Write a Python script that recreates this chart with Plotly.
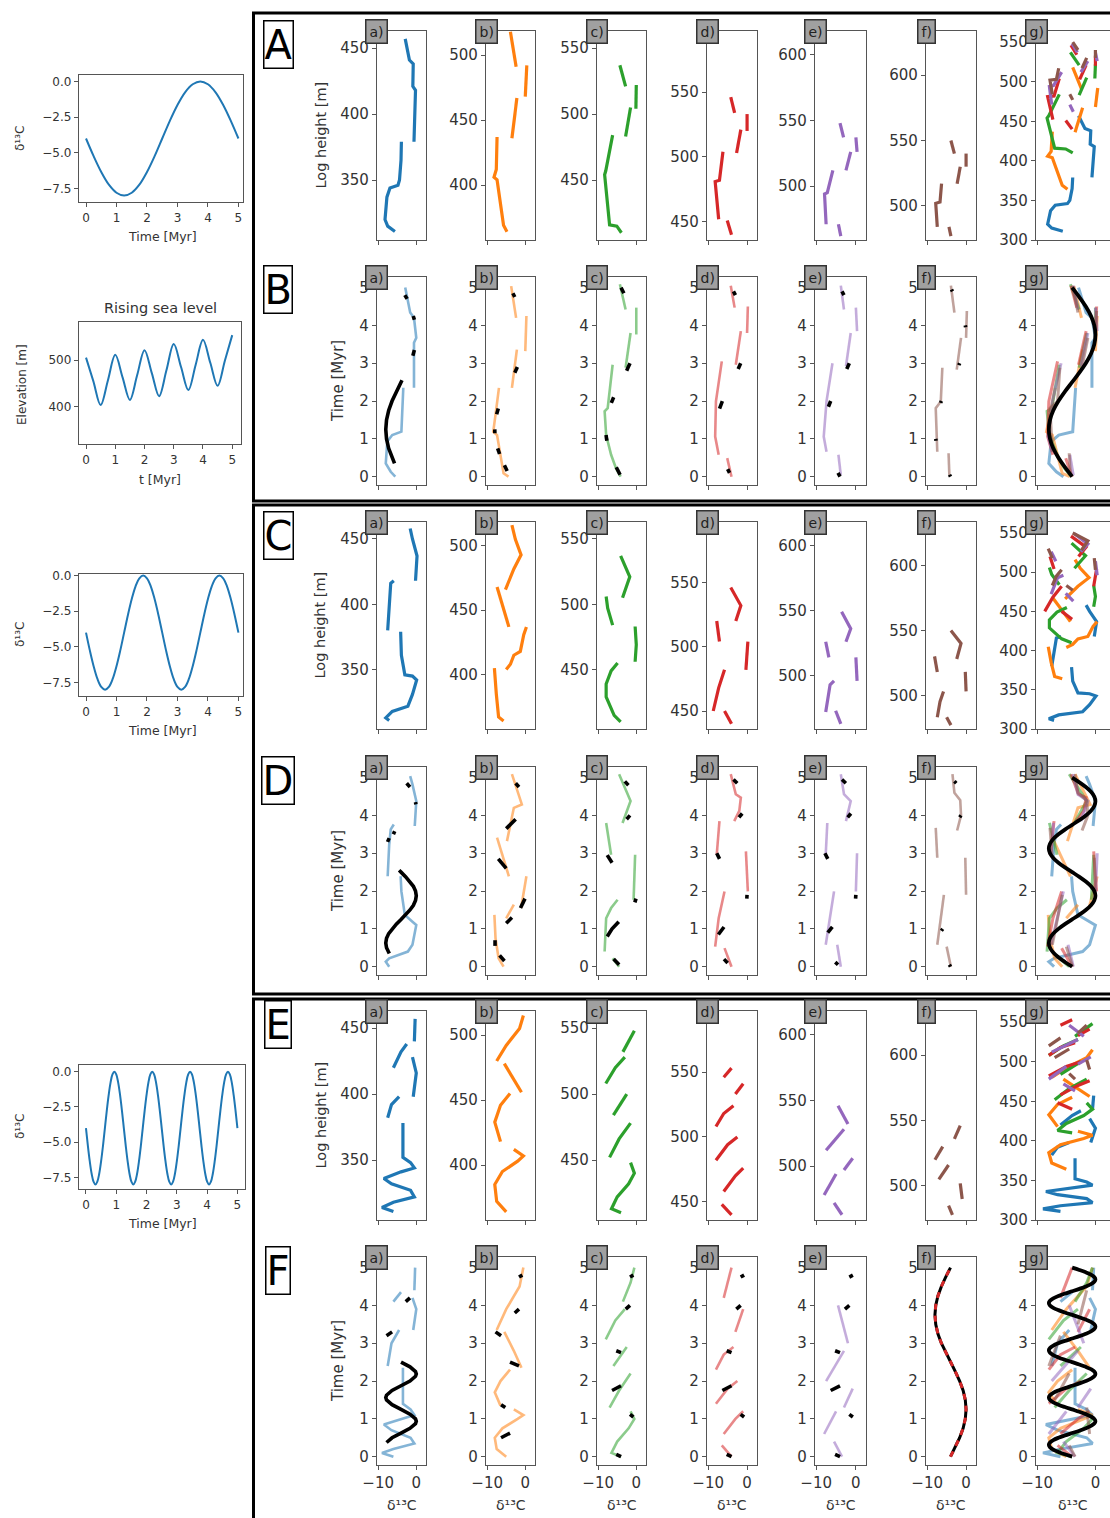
import plotly.graph_objects as go

FONT = "DejaVu Sans"
W, H = 1110, 1518

# ---------------- signals ----------------
sig1_t = [0.0, 0.25, 0.5, 0.75, 1.0, 1.25, 1.5, 1.75, 2.0, 2.25, 2.5, 2.75, 3.0, 3.25, 3.5, 3.75, 4.0, 4.25, 4.5, 4.75, 5.0]
sig1_v = [-4.0, -5.24, -6.35, -7.24, -7.80, -8.0, -7.80, -7.24, -6.35, -5.24, -4.0, -2.76, -1.65, -0.76, -0.20, 0.0, -0.20, -0.76, -1.65, -2.76, -4.0]

sig2_t = [0.0, 0.125, 0.25, 0.375, 0.5, 0.625, 0.75, 0.875, 1.0, 1.125, 1.25, 1.375, 1.5, 1.625, 1.75, 1.875, 2.0, 2.125, 2.25, 2.375,
          2.5, 2.625, 2.75, 2.875, 3.0, 3.125, 3.25, 3.375, 3.5, 3.625, 3.75, 3.875, 4.0, 4.125, 4.25, 4.375, 4.5, 4.625, 4.75, 4.875, 5.0]
sig2_v = [-4.0, -5.24, -6.35, -7.24, -7.80, -8.0, -7.80, -7.24, -6.35, -5.24, -4.0, -2.76, -1.65, -0.76, -0.20, 0.0, -0.20, -0.76, -1.65, -2.76,
          -4.0, -5.24, -6.35, -7.24, -7.80, -8.0, -7.80, -7.24, -6.35, -5.24, -4.0, -2.76, -1.65, -0.76, -0.20, 0.0, -0.20, -0.76, -1.65, -2.76, -4.0]

sig3_t = [0.0, 0.0625, 0.125, 0.1875, 0.25, 0.3125, 0.375, 0.4375, 0.5, 0.5625, 0.625, 0.6875, 0.75, 0.8125, 0.875, 0.9375, 1.0, 1.0625, 1.125, 1.1875,
          1.25, 1.3125, 1.375, 1.4375, 1.5, 1.5625, 1.625, 1.6875, 1.75, 1.8125, 1.875, 1.9375, 2.0, 2.0625, 2.125, 2.1875, 2.25, 2.3125, 2.375, 2.4375,
          2.5, 2.5625, 2.625, 2.6875, 2.75, 2.8125, 2.875, 2.9375, 3.0, 3.0625, 3.125, 3.1875, 3.25, 3.3125, 3.375, 3.4375, 3.5, 3.5625, 3.625, 3.6875,
          3.75, 3.8125, 3.875, 3.9375, 4.0, 4.0625, 4.125, 4.1875, 4.25, 4.3125, 4.375, 4.4375, 4.5, 4.5625, 4.625, 4.6875, 4.75, 4.8125, 4.875, 4.9375, 5.0]
sig3_v = [-4.0, -5.24, -6.35, -7.24, -7.80, -8.0, -7.80, -7.24, -6.35, -5.24, -4.0, -2.76, -1.65, -0.76, -0.20, 0.0, -0.20, -0.76, -1.65, -2.76,
          -4.0, -5.24, -6.35, -7.24, -7.80, -8.0, -7.80, -7.24, -6.35, -5.24, -4.0, -2.76, -1.65, -0.76, -0.20, 0.0, -0.20, -0.76, -1.65, -2.76,
          -4.0, -5.24, -6.35, -7.24, -7.80, -8.0, -7.80, -7.24, -6.35, -5.24, -4.0, -2.76, -1.65, -0.76, -0.20, 0.0, -0.20, -0.76, -1.65, -2.76,
          -4.0, -5.24, -6.35, -7.24, -7.80, -8.0, -7.80, -7.24, -6.35, -5.24, -4.0, -2.76, -1.65, -0.76, -0.20, 0.0, -0.20, -0.76, -1.65, -2.76, -4.0]

sea_t = [0.0, 0.25, 0.5, 0.75, 1.0, 1.25, 1.5, 1.75, 2.0, 2.25, 2.5, 2.75, 3.0, 3.25, 3.5, 3.75, 4.0, 4.25, 4.5, 4.75, 5.0]
sea_z = [505, 455, 404, 457, 511, 463, 415, 468, 521, 472, 423, 478, 534, 485, 436, 490, 543, 494, 445, 499, 553]

# ---------------- sections: (d13C, log height) ----------------
A_a = [[(-5.6, 311), (-7.5, 315), (-8.2, 320), (-7.7, 337), (-6.9, 344), (-4.8, 346), (-4.4, 350), (-4.0, 365), (-3.9, 379)],
       [(-0.6, 379), (-0.4, 400), (-0.2, 418), (-0.9, 421), (-0.8, 438), (-1.8, 441), (-2.4, 450), (-2.9, 457)]]
A_b = [[(-4.8, 364), (-5.7, 369), (-7.4, 404), (-8.2, 406), (-7.6, 412), (-7.4, 437)],
       [(-3.5, 436), (-2.2, 467)], [(0.0, 468), (0.4, 492)], [(-2.4, 491), (-3.9, 518)]]
A_c = [[(-3.9, 410), (-5.1, 415), (-7.0, 416), (-8.3, 454), (-8.0, 457), (-6.2, 484)],
       [(-2.8, 483), (-1.5, 505)], [(-0.1, 504), (0.0, 522)], [(-2.8, 521), (-4.3, 537)]]
A_d = [[(-4.0, 440), (-5.1, 451)], [(-7.3, 452), (-8.2, 481), (-7.1, 482), (-6.2, 504)],
       [(-2.7, 503), (-1.6, 521)], [(0.0, 520), (0.0, 533)], [(-3.2, 534), (-4.2, 546)]]
A_e = [[(-3.8, 462), (-4.4, 471)], [(-7.5, 471), (-7.9, 494), (-7.2, 495), (-5.8, 512)],
       [(-2.5, 512), (-1.3, 526)], [(0.3, 526), (0.0, 537)], [(-3.1, 537), (-4.0, 548)]]
A_f = [[(-3.9, 477), (-4.4, 484)], [(-7.4, 484), (-7.8, 502), (-6.7, 503), (-6.3, 517)],
       [(-2.3, 517), (-1.5, 530)], [(0.0, 530), (0.0, 540)], [(-3.0, 540), (-3.9, 550)]]

C_a = [[(-7.1, 311), (-8.0, 313), (-6.3, 318), (-2.2, 322), (-1.0, 331), (0.1, 342), (-1.0, 345), (-3.0, 346), (-3.9, 361), (-4.1, 379)],
       [(-7.5, 380), (-7.1, 399), (-6.7, 416), (-5.9, 418)],
       [(-0.2, 418), (0.2, 437), (-1.0, 450), (-1.6, 458)]]
C_b = [[(-5.7, 364), (-7.0, 367), (-7.6, 385), (-8.1, 405)],
       [(-5.0, 404), (-3.9, 408), (-3.0, 415), (-1.3, 418), (-0.4, 431), (0.3, 437)],
       [(-4.3, 437), (-5.7, 451), (-7.4, 468)],
       [(-5.2, 466), (-3.0, 482), (-1.1, 493), (-2.6, 505), (-3.5, 516)]]
C_c = [[(-4.1, 410), (-5.8, 415), (-7.9, 429), (-7.9, 439), (-6.6, 449), (-4.9, 455)],
       [(-0.3, 456), (0.0, 469), (-0.3, 483)], [(-6.2, 484), (-7.5, 497), (-7.9, 506)],
       [(-3.6, 505), (-1.7, 521), (-4.1, 537)]]
C_d = [[(-4.0, 440), (-5.8, 450)], [(-8.7, 450), (-7.3, 468), (-5.8, 482)], [(-0.3, 482), (0.2, 504)],
       [(-7.1, 504), (-7.8, 520)], [(-2.9, 520), (-1.6, 532), (-4.2, 546)]]
C_e = [[(-3.8, 463), (-5.1, 473)], [(-7.6, 472), (-6.5, 493), (-5.5, 496)], [(0.3, 496), (0.0, 514)],
       [(-6.8, 514), (-7.6, 526)], [(-2.5, 526), (-1.3, 536), (-3.6, 549)]]
C_f = [[(-3.9, 477), (-5.0, 483)], [(-7.4, 483), (-6.7, 495), (-5.8, 503)], [(0.0, 503), (-0.2, 518)],
       [(-7.4, 518), (-8.1, 530)], [(-2.4, 528), (-1.3, 540), (-3.9, 550)]]

E_a = [[(-6.0, 311), (-9.0, 314), (-6.0, 318), (-0.5, 322), (-1.5, 327), (-6.5, 332), (-8.5, 336), (-4.0, 341), (-0.5, 344), (-1.5, 348), (-3.5, 352), (-3.5, 378)],
       [(-7.5, 382), (-6.5, 392), (-4.5, 398)], [(-0.8, 398), (0.0, 416), (-1.0, 428)],
       [(-6.0, 420), (-4.0, 432), (-2.5, 438)], [(-0.5, 440), (-0.3, 457)]]
E_b = [[(-5.0, 364), (-7.5, 372), (-8.0, 385), (-6.0, 395), (-2.0, 403), (-0.5, 407), (-3.0, 412)],
       [(-6.5, 418), (-8.0, 433), (-6.5, 446), (-4.0, 455)], [(-1.0, 456), (-3.0, 466), (-5.5, 478)],
       [(-7.5, 480), (-5.0, 492), (-1.5, 505), (-0.5, 515)]]
E_c = [[(-4.0, 410), (-6.5, 413), (-5.0, 422), (-2.0, 432), (-0.5, 440), (-1.5, 448)],
       [(-7.0, 452), (-4.5, 466), (-1.5, 478)], [(-6.0, 484), (-2.5, 500)],
       [(-8.0, 508), (-5.5, 520), (-3.0, 528)], [(-3.5, 532), (-1.5, 542), (-0.5, 548)]]
E_d = [[(-4.0, 440), (-6.5, 448)], [(-6.0, 458), (-3.0, 470), (-1.0, 476)], [(-8.0, 482), (-5.0, 494), (-2.5, 500)],
       [(-8.0, 508), (-6.0, 518), (-3.5, 524)], [(-3.0, 533), (-1.0, 541)], [(-6.0, 546), (-4.0, 553)]]
E_e = [[(-3.5, 463), (-5.5, 472)], [(-8.0, 478), (-5.0, 494)], [(-3.0, 497), (-0.8, 506)],
       [(-7.5, 512), (-3.0, 528)], [(-2.0, 532), (-4.5, 546)]]
E_f = [[(-3.5, 478), (-4.5, 485)], [(-1.0, 490), (-1.5, 502)], [(-7.0, 505), (-4.5, 516)],
       [(-8.0, 520), (-6.0, 530)], [(-3.0, 536), (-1.5, 546)]]

# ---------------- sections on their age model: (d13C, time) ----------------
B_a = [[(-5.5, 0.0), (-6.7, 0.13), (-8.0, 0.35), (-7.6, 0.93), (-6.3, 1.1), (-3.9, 1.19), (-3.4, 2.35)],
       [(-0.6, 2.35), (-0.6, 3.54), (0.0, 3.67), (-0.6, 4.2), (-1.6, 4.34), (-2.9, 5.0)]]
B_b = [[(-4.4, 0.0), (-5.7, 0.09), (-7.4, 1.1), (-8.4, 1.19), (-7.8, 1.64), (-6.9, 2.35)],
       [(-3.5, 2.35), (-2.2, 3.36)], [(0.0, 3.32), (0.3, 4.25)], [(-2.4, 4.2), (-3.7, 5.04)]]
B_c = [[(-4.1, 0.0), (-5.3, 0.22), (-6.6, 0.58), (-7.9, 1.1), (-8.3, 1.73), (-7.5, 1.81), (-6.2, 2.96)],
       [(-2.8, 2.88), (-1.5, 3.8)], [(0.0, 3.76), (0.0, 4.47)], [(-2.8, 4.42), (-4.3, 5.09)]]
B_d = [[(-4.0, 0.0), (-5.1, 0.49)], [(-7.3, 0.58), (-8.2, 1.06), (-8.0, 1.99), (-6.5, 3.05)],
       [(-2.9, 2.96), (-1.6, 3.85)], [(0.0, 3.8), (0.2, 4.5)], [(-3.2, 4.47), (-4.2, 5.05)]]
B_e = [[(-3.8, 0.04), (-4.4, 0.58)], [(-7.4, 0.66), (-8.1, 1.06), (-7.4, 1.99), (-5.9, 3.0)],
       [(-2.5, 2.92), (-1.3, 3.8)], [(0.3, 3.85), (0.0, 4.47)], [(-3.0, 4.42), (-3.8, 5.05)]]
B_f = [[(-4.3, 0.04), (-4.5, 0.62)], [(-7.4, 0.66), (-7.8, 1.81), (-6.5, 1.99), (-6.1, 2.88)],
       [(-2.4, 2.83), (-1.3, 3.67)], [(0.0, 3.67), (0.2, 4.38)], [(-3.0, 4.34), (-3.9, 5.05)]]
B_a_k = [[(-5.70, 0.35), (-6.35, 0.5), (-7.24, 0.75), (-7.80, 1.0), (-8.0, 1.25), (-7.80, 1.5), (-7.24, 1.75), (-6.35, 2.0), (-5.24, 2.25), (-3.75, 2.55)],
         [(-0.9, 3.2), (-0.5, 3.35)], [(-0.5, 4.15), (-0.8, 4.25)], [(-2.4, 4.7), (-3.0, 4.8)]]
B_b_k = [[(-4.75, 0.15), (-5.47, 0.3)], [(-6.74, 0.6), (-7.24, 0.75)], [(-7.98, 1.15), (-8.0, 1.25)], [(-7.51, 1.65), (-7.08, 1.8)],
         [(-2.76, 2.75), (-2.07, 2.9)], [(-2.76, 4.75), (-3.25, 4.85)]]
B_c_k = [[(-4.25, 0.05), (-5.24, 0.25)], [(-7.72, 0.95), (-7.93, 1.1)], [(-6.55, 1.95), (-5.93, 2.1)], [(-2.53, 2.8), (-1.65, 3.0)],
         [(-3.25, 4.85), (-4.0, 5.0)]]
B_d_k = [[(-4.5, 0.1), (-5.0, 0.2)], [(-7.08, 1.8), (-6.35, 2.0)], [(-2.30, 2.85), (-1.65, 3.0)], [(-3.0, 4.8), (-3.5, 4.9)]]
B_e_k = [[(-4.0, 0.0), (-4.5, 0.1)], [(-6.92, 1.85), (-6.35, 2.0)], [(-2.30, 2.85), (-1.65, 3.0)], [(-3.0, 4.8), (-3.5, 4.9)]]
B_f_k = [[(-4.0, 0.0), (-4.25, 0.05)], [(-7.72, 0.95), (-7.80, 1.0)], [(-6.55, 1.95), (-6.35, 2.0)], [(-1.86, 2.95), (-1.65, 3.0)],
         [(-0.12, 3.95), (-0.20, 4.0)], [(-3.5, 4.9), (-3.75, 4.95)]]

D_a = [[(-7.1, 0.0), (-8.0, 0.13), (-7.1, 0.22), (-2.2, 0.4), (-1.0, 0.58), (0.0, 1.1), (-1.0, 1.19), (-3.0, 1.37), (-3.9, 1.99), (-4.1, 2.39)],
       [(-7.5, 2.39), (-7.1, 3.23), (-6.7, 3.63), (-5.9, 3.76)], [(-0.4, 3.72), (0.0, 4.38), (-1.0, 4.82), (-1.6, 5.04)]]
D_b = [[(-5.7, 0.0), (-7.0, 0.22), (-7.8, 0.75), (-8.1, 1.37)], [(-5.0, 1.28), (-3.0, 1.64)], [(-1.1, 1.55), (0.3, 2.39)],
       [(-4.3, 2.39), (-7.4, 3.41)], [(-4.8, 3.32), (-3.0, 4.2), (-0.9, 4.29), (-3.0, 4.91), (-3.5, 5.09)]]
D_c = [[(-4.5, 0.0), (-6.2, 0.22)], [(-8.3, 0.4), (-7.9, 1.28), (-6.6, 1.55), (-4.9, 1.77)], [(-0.7, 1.77), (-0.3, 2.96)],
       [(-6.6, 2.96), (-7.9, 3.8)], [(-3.6, 3.8), (-1.5, 4.38), (-4.5, 5.09)]]
D_d = [[(-4.0, 0.0), (-5.8, 0.49)], [(-8.2, 0.53), (-7.3, 1.28), (-5.8, 1.99)], [(0.2, 1.99), (-0.3, 3.05)],
       [(-7.8, 2.96), (-7.1, 3.85)], [(-4.2, 5.09), (-2.9, 4.56), (-1.6, 4.47), (-2.0, 4.12), (-3.3, 3.85)]]
D_e = [[(-3.8, 0.0), (-4.7, 0.58)], [(-7.6, 0.58), (-6.5, 1.28), (-5.5, 1.99)], [(0.0, 1.99), (0.3, 3.0)],
       [(-7.6, 2.96), (-7.2, 3.8)], [(-3.8, 5.09), (-3.0, 4.56), (-1.3, 4.38), (-2.0, 4.1), (-2.5, 3.85)]]
D_f = [[(-3.9, 0.0), (-5.0, 0.53)], [(-7.4, 0.58), (-6.5, 1.28), (-5.7, 1.9)], [(0.0, 1.9), (-0.2, 2.88)],
       [(-7.4, 2.88), (-7.8, 3.67)], [(-3.5, 5.09), (-3.0, 4.6), (-1.5, 4.4), (-1.3, 4.0), (-2.3, 3.6)]]
D_a_k = [[(-7.08, 0.35), (-7.80, 0.5), (-8.0, 0.625), (-7.80, 0.75), (-7.24, 0.875), (-6.35, 1.0), (-5.24, 1.125), (-4.0, 1.25),
          (-2.76, 1.375), (-1.65, 1.5), (-0.76, 1.625), (-0.20, 1.75), (0.0, 1.875), (-0.20, 2.0), (-0.76, 2.125), (-1.65, 2.25),
          (-2.76, 2.375), (-4.0, 2.5), (-4.5, 2.55)],
         [(-7.53, 3.3), (-7.1, 3.4)], [(-6.0, 3.5), (-5.66, 3.58)], [(-0.09, 4.29), (-0.2, 4.35)], [(-1.65, 4.75), (-2.53, 4.85)]]
D_b_k = [[(-5.47, 0.15), (-6.74, 0.3)], [(-7.93, 0.55), (-8.0, 0.625), (-7.93, 0.7)], [(-5.0, 1.15), (-3.5, 1.3)],
         [(-1.26, 1.55), (-0.07, 1.8)], [(-5.0, 2.6), (-7.08, 2.85)], [(-5.0, 3.65), (-2.53, 3.9)], [(-1.65, 4.75), (-2.53, 4.85)]]
D_c_k = [[(-4.5, 0.05), (-5.93, 0.2)], [(-7.62, 0.8), (-6.35, 1.0), (-4.6, 1.19)], [(-0.38, 1.7), (-0.07, 1.8)],
         [(-6.35, 2.75), (-7.62, 2.95)], [(-2.53, 3.9), (-1.65, 4.0)], [(-2.07, 4.8), (-3.0, 4.9)]]
D_d_k = [[(-5.0, 0.1), (-5.93, 0.2)], [(-7.38, 0.85), (-5.93, 1.05)], [(-0.07, 1.8), (-0.01, 1.9)], [(-7.08, 2.85), (-7.80, 3.0)],
         [(-2.07, 3.95), (-1.26, 4.05)], [(-2.53, 4.85), (-3.5, 4.95)]]
D_e_k = [[(-4.5, 0.05), (-5.19, 0.12)], [(-7.08, 0.9), (-5.93, 1.05)], [(-0.07, 1.8), (-0.01, 1.9)], [(-7.08, 2.85), (-7.80, 3.0)],
         [(-2.07, 3.95), (-1.26, 4.05)], [(-2.53, 4.85), (-3.5, 4.95)]]
D_f_k = [[(-4.0, 0.0), (-4.3, 0.05)], [(-6.35, 0.95), (-6.0, 1.0)], [(-1.65, 3.95), (-1.3, 4.0)], [(-2.53, 4.85), (-3.0, 4.9)]]

F_a = [[(-6.0, 0.0), (-9.0, 0.1), (-6.0, 0.2), (-0.5, 0.35), (-1.5, 0.5), (-6.5, 0.7), (-8.5, 0.85), (-4.0, 1.0), (-0.5, 1.1), (-1.5, 1.25), (-3.5, 1.4), (-3.5, 2.35)],
       [(-7.5, 2.4), (-6.5, 3.0), (-4.5, 3.35)], [(-0.8, 3.35), (0.0, 3.9), (-1.0, 4.2)],
       [(-6.0, 4.1), (-4.0, 4.35)], [(-0.5, 4.4), (-0.3, 5.0)]]
F_b = [[(-5.0, 0.0), (-7.5, 0.2), (-8.0, 0.5), (-6.0, 0.75), (-2.0, 1.0), (-0.5, 1.1), (-3.0, 1.25)],
       [(-6.5, 1.35), (-8.0, 1.7), (-6.5, 2.0), (-4.0, 2.3)], [(-1.0, 2.35), (-3.0, 2.8), (-5.5, 3.3)],
       [(-7.5, 3.35), (-5.0, 3.9), (-1.5, 4.5), (-0.5, 5.0)]]
F_c = [[(-4.0, 0.0), (-6.5, 0.1), (-5.0, 0.4), (-2.0, 0.75), (-0.5, 1.0), (-1.5, 1.2)],
       [(-7.0, 1.3), (-4.5, 1.75), (-1.5, 2.2)], [(-6.0, 2.4), (-2.5, 2.9)],
       [(-8.0, 3.1), (-5.5, 3.6), (-3.0, 3.9)], [(-3.5, 4.1), (-1.5, 4.6), (-0.5, 5.0)]]
F_d = [[(-4.0, 0.0), (-6.5, 0.3)], [(-6.0, 0.6), (-3.0, 1.0), (-1.0, 1.2)], [(-8.0, 1.4), (-5.0, 1.8), (-2.5, 2.0)],
       [(-8.0, 2.3), (-6.0, 2.7), (-3.5, 2.9)], [(-3.0, 3.3), (-1.0, 3.9)], [(-6.0, 4.2), (-4.0, 5.0)]]
F_e = [[(-3.5, 0.0), (-5.5, 0.4)], [(-8.0, 0.6), (-5.0, 1.2)], [(-3.0, 1.3), (-0.8, 1.8)],
       [(-7.5, 2.0), (-3.0, 2.8)], [(-2.0, 3.0), (-4.5, 4.0)]]
F_f = [[(-3.5, 0.0), (-4.5, 0.3)], [(-1.0, 0.6), (-1.5, 1.3)], [(-7.0, 1.5), (-4.5, 2.2)],
       [(-8.0, 2.4), (-6.0, 3.2)], [(-3.0, 3.5), (-1.5, 4.4)]]
# panel F f) shows one red / black dashed curve over the whole interval
F_f_curve = [(-4.0, 0.0), (-2.76, 0.25), (-1.65, 0.5), (-0.76, 0.75), (-0.2, 1.0), (0.0, 1.25), (-0.2, 1.5), (-0.76, 1.75),
             (-1.65, 2.0), (-2.76, 2.25), (-4.0, 2.5), (-5.24, 2.75), (-6.35, 3.0), (-7.24, 3.25), (-7.8, 3.5), (-8.0, 3.75),
             (-7.8, 4.0), (-7.24, 4.25), (-6.35, 4.5), (-5.24, 4.75), (-4.0, 5.0)]
F_a_k = [[(-7.80, 0.375), (-6.35, 0.5), (-4.0, 0.625), (-1.65, 0.75), (-0.20, 0.875), (0.0, 0.9375), (-0.20, 1.0), (-1.65, 1.125),
          (-4.0, 1.25), (-6.35, 1.375), (-7.80, 1.5), (-8.0, 1.5625), (-7.80, 1.625), (-6.35, 1.75), (-4.0, 1.875), (-1.65, 2.0),
          (-0.20, 2.125), (0.0, 2.1875), (-0.20, 2.25), (-1.65, 2.375), (-4.0, 2.5)],
         [(-7.8, 3.2), (-6.35, 3.3)], [(-2.76, 4.1), (-1.65, 4.2)]]
F_b_k = [[(-6.35, 0.5), (-4.0, 0.625)], [(-5.24, 1.3), (-6.35, 1.375)], [(-1.65, 2.4), (-4.0, 2.5)], [(-6.35, 3.2), (-7.8, 3.3)],
         [(-2.76, 3.8), (-1.65, 3.9)], [(-1.65, 4.75), (-0.76, 4.8)]]
F_c_k = [[(-4.0, 0.0), (-5.24, 0.06)], [(-0.76, 1.05), (-1.65, 1.12)], [(-6.35, 1.75), (-4.0, 1.875)], [(-4.0, 2.75), (-5.24, 2.8)],
         [(-2.76, 3.9), (-1.65, 4.0)], [(-1.65, 4.75), (-0.76, 4.8)]]
F_d_k = [[(-4.0, 0.0), (-5.24, 0.06)], [(-0.76, 1.05), (-1.65, 1.12)], [(-6.35, 1.75), (-4.0, 1.875)], [(-4.0, 2.75), (-5.24, 2.8)],
         [(-2.76, 3.9), (-1.65, 4.0)], [(-1.65, 4.75), (-0.76, 4.8)]]
F_e_k = [[(-4.0, 0.0), (-5.24, 0.06)], [(-0.76, 1.05), (-1.65, 1.12)], [(-6.35, 1.75), (-4.0, 1.875)], [(-4.0, 2.75), (-5.24, 2.8)],
         [(-2.76, 3.9), (-1.65, 4.0)], [(-1.65, 4.75), (-0.76, 4.8)]]
F_f_k = []

panel_tags = ["a)", "b)", "c)", "d)", "e)", "f)", "g)"]
row_letters = ["A", "B", "C", "D", "E", "F"]

# ---------------- styling / geometry ----------------
C6 = ['#1f77b4', '#ff7f0e', '#2ca02c', '#d62728', '#9467bd', '#8c564b']
L6 = ['rgba(31,119,180,0.55)', 'rgba(255,127,14,0.55)', 'rgba(44,160,44,0.55)',
      'rgba(214,39,40,0.55)', 'rgba(148,103,189,0.55)', 'rgba(140,86,75,0.55)']
col_px = [(377, 426), (486, 535), (597, 646), (707, 757), (815, 866), (926, 976), (1036, 1110)]
row_py = [(31, 240), (277, 485), (522, 729), (767, 975), (1011, 1220), (1257, 1465)]
h_ranges = [(304.5, 463), (357.7, 518.5), (404.5, 563), (436, 597), (459, 618), (474, 633.6), (300, 564)]
t_range = (-0.22, 5.28)
x_ranges = [(-10.3, 2.55)] * 6 + [(-10.2, 2.5)]

height_rows = {0: [A_a, A_b, A_c, A_d, A_e, A_f], 2: [C_a, C_b, C_c, C_d, C_e, C_f], 4: [E_a, E_b, E_c, E_d, E_e, E_f]}
time_rows = {1: ([B_a, B_b, B_c, B_d, B_e, B_f], [B_a_k, B_b_k, B_c_k, B_d_k, B_e_k, B_f_k], sig1_t, sig1_v),
             3: ([D_a, D_b, D_c, D_d, D_e, D_f], [D_a_k, D_b_k, D_c_k, D_d_k, D_e_k, D_f_k], sig2_t, sig2_v),
             5: ([F_a, F_b, F_c, F_d, F_e, F_f], [F_a_k, F_b_k, F_c_k, F_d_k, F_e_k, F_f_k], sig3_t, sig3_v)}

fig = go.Figure()
layout = {}
annotations = []
counter = [0]

AX = dict(showline=True, mirror=True, linecolor='#555555', linewidth=1.4, ticks='outside', ticklen=4,
          tickwidth=1.2, tickcolor='#555555', showgrid=False, zeroline=False, fixedrange=True, automargin=False)

D13C = '\u03b4\u00b9\u00b3C'


def add_axes(px0, px1, py0, py1, xr, yr, xkw, ykw):
    counter[0] += 1
    n = '' if counter[0] == 1 else str(counter[0])
    xa = dict(AX, domain=[px0 / W, px1 / W], range=list(xr), anchor='y' + n)
    xa.update(xkw)
    ya = dict(AX, domain=[1 - py1 / H, 1 - py0 / H], range=list(yr), anchor='x' + n)
    ya.update(ykw)
    layout['xaxis' + n] = xa
    layout['yaxis' + n] = ya
    return 'x' + n, 'y' + n


def add_segs(segs, color, width, xa, ya, dash=None):
    xs, ys = [], []
    for s in segs:
        for (x, y) in s:
            xs.append(x)
            ys.append(y)
        xs.append(None)
        ys.append(None)
    ln = dict(color=color, width=width)
    if dash:
        ln['dash'] = dash
    fig.add_trace(go.Scatter(x=xs, y=ys, mode='lines', line=ln,
                             xaxis=xa, yaxis=ya, showlegend=False, hoverinfo='skip'))


def text(x, y, s, size, angle=0, **kw):
    d = dict(x=x / W, y=1 - y / H, xref='paper', yref='paper', text=s, showarrow=False,
             font=dict(family=FONT, size=size, color=kw.pop('color', '#333333')), textangle=angle,
             xanchor='center', yanchor='middle')
    d.update(kw)
    annotations.append(d)


# ---------------- left column ----------------
tf_small = dict(family=FONT, size=12, color='#333333')
dkw = dict(tickvals=[0, -2.5, -5, -7.5], ticktext=['0.0', '\u22122.5', '\u22125.0', '\u22127.5'], tickfont=tf_small)
tkw = dict(tickvals=[0, 1, 2, 3, 4, 5], tickfont=tf_small)

xa, ya = add_axes(79, 243, 75, 202, (-0.23, 5.15), (-8.45, 0.45), tkw, dkw)
fig.add_trace(go.Scatter(x=sig1_t, y=sig1_v, mode='lines', line=dict(color='#1f77b4', width=2, shape='spline'),
                         xaxis=xa, yaxis=ya, showlegend=False, hoverinfo='skip'))
text(20, 139, D13C, 12, -90)
text(162, 237, 'Time [Myr]', 12.5)

xa, ya = add_axes(79, 241, 322, 444, (-0.24, 5.3), (321, 581), tkw,
                  dict(tickvals=[400, 500], tickfont=tf_small))
fig.add_trace(go.Scatter(x=sea_t, y=sea_z, mode='lines', line=dict(color='#1f77b4', width=2, shape='spline'),
                         xaxis=xa, yaxis=ya, showlegend=False, hoverinfo='skip'))
text(160, 308, 'Rising sea level', 14.5)
text(22, 385, 'Elevation [m]', 12, -90)
text(160, 480, 't [Myr]', 12.5)

xa, ya = add_axes(79, 243, 574, 696, (-0.23, 5.15), (-8.43, 0.1), tkw, dkw)
fig.add_trace(go.Scatter(x=sig2_t, y=sig2_v, mode='lines', line=dict(color='#1f77b4', width=2, shape='spline'),
                         xaxis=xa, yaxis=ya, showlegend=False, hoverinfo='skip'))
text(20, 635, D13C, 12, -90)
text(162, 730, 'Time [Myr]', 12.5)

xa, ya = add_axes(79, 245, 1065, 1189, (-0.23, 5.25), (-8.32, 0.47), tkw, dkw)
fig.add_trace(go.Scatter(x=sig3_t, y=sig3_v, mode='lines', line=dict(color='#1f77b4', width=2, shape='spline'),
                         xaxis=xa, yaxis=ya, showlegend=False, hoverinfo='skip'))
text(20, 1127, D13C, 12, -90)
text(162, 1223, 'Time [Myr]', 12.5)

# ---------------- right block: 6 rows x 7 panels ----------------
tf_big = dict(family=FONT, size=15, color='#333333')
for r in range(6):
    py0, py1 = row_py[r]
    is_time = r in time_rows
    for c in range(7):
        px0, px1 = col_px[c]
        if r == 5:
            xkw = dict(tickvals=[-10, 0], ticktext=['\u221210', '0'], tickfont=tf_big)
        else:
            xkw = dict(tickvals=[-10, 0], showticklabels=False)
        if is_time:
            ykw = dict(tickvals=[0, 1, 2, 3, 4, 5], tickfont=tf_big)
            yr = t_range
        else:
            ykw = dict(tick0=0, dtick=50, tickfont=tf_big)
            yr = h_ranges[c]
        xa, ya = add_axes(px0, px1, py0, py1, x_ranges[c], yr, xkw, ykw)
        if not is_time:
            secs = height_rows[r]
            if c < 6:
                add_segs(secs[c], C6[c], 3.2, xa, ya)
            else:
                for k in range(6):
                    add_segs(secs[k], C6[k], 3.2, xa, ya)
        else:
            secs, blacks, st, sv = time_rows[r]
            if c < 6:
                if r == 5 and c == 5:
                    add_segs([F_f_curve], 'black', 3.0, xa, ya)
                    add_segs([F_f_curve], '#d62728', 3.0, xa, ya, dash='6px,6px')
                else:
                    add_segs(secs[c], L6[c], 2.6, xa, ya)
                    add_segs(blacks[c], 'black', 3.6, xa, ya)
            else:
                for k in range(6):
                    add_segs(secs[k], L6[k], 3.0, xa, ya)
                fig.add_trace(go.Scatter(x=sv, y=st, mode='lines',
                                         line=dict(color='black', width=3.8, shape='spline'),
                                         xaxis=xa, yaxis=ya, showlegend=False, hoverinfo='skip'))
        # panel tag box
        annotations.append(dict(x=px0 / W, y=1 - py0 / H, xref='paper', yref='paper', text=panel_tags[c],
                                showarrow=False, font=dict(family=FONT, size=14, color='#222222'),
                                bgcolor='#a0a0a0', bordercolor='#333333', borderwidth=1.5, borderpad=3,
                                xanchor='center', yanchor='middle'))
        if r == 5:
            text((px0 + px1) / 2, 1505, D13C, 14)
    # row y-title
    if is_time:
        text(338, (py0 + py1) / 2, 'Time [Myr]', 15, -90)
    else:
        text(320, (py0 + py1) / 2, 'Log height [m]', 14.5, -90)
    # row letter
    annotations.append(dict(x=278 / W, y=1 - (py0 + 13) / H, xref='paper', yref='paper', text=row_letters[r],
                            showarrow=False, font=dict(family=FONT, size=40, color='black'),
                            bgcolor='white', bordercolor='black', borderwidth=1.5, borderpad=0,
                            xanchor='center', yanchor='middle'))

shapes = []
for (y0, y1) in [(13, 501), (505, 994), (999, 1530)]:
    shapes.append(dict(type='rect', xref='paper', yref='paper', x0=253.5 / W, x1=1120 / W,
                       y0=1 - y1 / H, y1=1 - y0 / H, line=dict(color='black', width=3)))

layout.update(dict(width=W, height=H, margin=dict(l=0, r=0, t=0, b=0, autoexpand=False), paper_bgcolor='white',
                   plot_bgcolor='white', annotations=annotations, shapes=shapes, showlegend=False,
                   font=dict(family=FONT)))
fig.update_layout(**layout)
fig.write_html("out.html", config={'displayModeBar': False},
               post_script="document.body.style.margin='0px';document.body.style.padding='0px';")
